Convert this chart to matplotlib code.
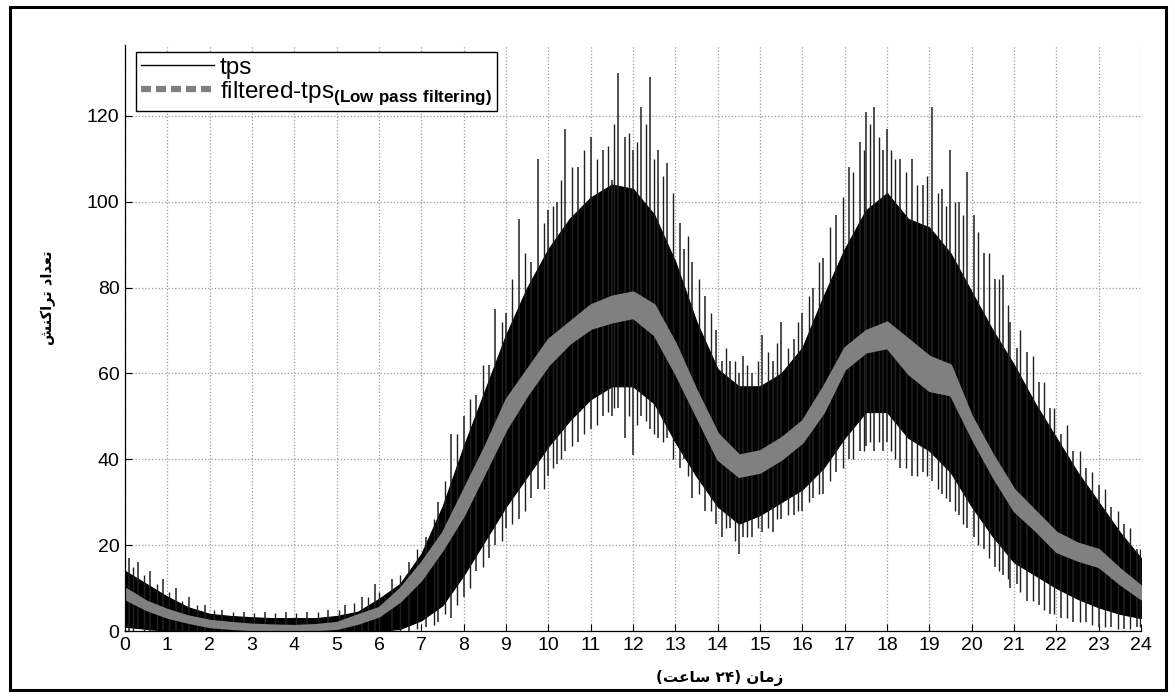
import matplotlib
matplotlib.use('Agg')
import matplotlib.pyplot as plt
from matplotlib import font_manager
from matplotlib.ft2font import FT2Font
from matplotlib.lines import Line2D
from matplotlib.patches import Rectangle

# ---------------- data ----------------
hours = [0, 0.5, 1, 1.5, 2, 2.5, 3, 3.5, 4, 4.5, 5, 5.5, 6, 6.5, 7, 7.5, 8, 8.5,
         9, 9.5, 10, 10.5, 11, 11.5, 12, 12.5, 13, 13.5, 14, 14.5, 15, 15.5, 16,
         16.5, 17, 17.5, 18, 18.5, 19, 19.5, 20, 20.5, 21, 21.5, 22, 22.5, 23,
         23.5, 24]

# dense tps band (upper / lower edge of the solid black mass)
tps_upper = [14, 11, 8, 5.5, 4, 3.5, 3.2, 3, 3, 3, 3.5, 4.5, 7.5, 11, 18, 29, 43, 56,
             69, 80, 89, 96, 101, 104, 103, 97, 86, 72, 61, 57, 57, 60, 66,
             78, 89, 98, 102, 96, 94, 88, 79, 70, 62, 53, 45, 37, 30,
             23, 17]
tps_lower = [1, 0.5, 0, 0, 0, 0, 0, 0, 0, 0, 0, 0, 0, 0.5, 2.5, 6, 13, 21,
             29, 36, 43, 49, 54, 57, 57, 53, 44, 36, 29, 25, 27, 30, 33,
             38, 45, 51, 51, 45, 42, 37, 29, 22, 16, 13, 10, 7.5, 5.5,
             4, 3]

# tall individual tps spikes: (hour, low, high)
spike_hours = [0.1, 0.3, 0.6, 0.9, 1.2, 1.5, 1.9, 2.3, 2.8, 3.3, 3.8, 4.3, 4.8, 5.2,
               5.6, 5.9, 6.3, 6.7, 7.1, 7.4, 7.7, 8.0, 8.3, 8.6, 8.75, 9.0, 9.3,
               9.6, 9.75, 10.0, 10.2, 10.4, 10.7, 11.0, 11.3, 11.5, 11.65, 11.8,
               12.0, 12.2, 12.4, 12.6, 12.8, 13.1, 13.2, 13.4, 13.7, 13.95, 14.1,
               14.3, 14.5, 14.6, 14.8, 15.05, 15.3, 15.5, 15.8, 16.0, 16.25, 16.5,
               16.8, 17.1, 17.37, 17.5, 17.7, 17.9, 18.0, 18.3, 18.6, 18.85, 19.06,
               19.3, 19.5, 19.7, 19.9, 20.05, 20.3, 20.55, 20.75, 20.9, 21.07, 21.3,
               21.6, 21.85, 22.1, 22.4, 22.7, 23.0, 23.3, 23.6, 23.9]
spike_low = [0, 0.5, 0, 0, 0, 0, 0, 0, 0, 0, 0, 0, 0, 0,
             0, 0, 0, 0, 1, 2, 3, 8, 14, 17, 20, 24, 26,
             31, 33, 36, 39, 42, 44, 47, 50, 50, 52, 45,
             41, 50, 47, 45, 45, 38, 40, 31, 28, 25, 22,
             24, 18, 22, 22, 23, 23, 26, 27, 28, 31, 32,
             37, 40, 42, 43, 42, 42, 44, 38, 36, 37, 35,
             32, 30, 27, 24, 22, 19, 15, 13, 10, 11, 7,
             6, 4, 3, 2, 2, 1, 1, 0.5, 1]
spike_high = [17, 16, 14, 12, 10, 8, 6, 5, 4.5, 4.5, 4.5, 4.5, 5, 6,
              8, 11, 12, 16, 22, 30, 46, 50, 55, 62, 75, 74, 96,
              86, 110, 98, 100, 117, 108, 115, 112, 105, 130, 115,
              112, 122, 129, 112, 109, 95, 89, 86, 78, 70, 63,
              63, 60, 64, 60, 69, 63, 72, 68, 74, 80, 87,
              97, 108, 114, 121, 122, 112, 117, 110, 110, 104, 122,
              103, 112, 100, 107, 97, 88, 82, 83, 72, 66, 65,
              58, 52, 46, 42, 38, 34, 29, 25, 19]

# shorter fuzz strokes around the band edges: (hour, low, high)
fuzz_hours = [0.2, 0.45, 0.75, 1.05, 1.35, 1.7, 2.1, 2.55, 3.05, 3.55, 4.05, 4.55,
              5.05, 5.4, 5.75, 6.0, 6.5, 6.9, 7.3, 7.55, 7.85, 8.15, 8.45, 8.9,
              9.15, 9.45, 9.9, 10.1, 10.3, 10.55, 10.85, 11.15, 11.4, 11.55, 11.9,
              12.1, 12.3, 12.5, 12.7, 12.95, 13.3, 13.55, 13.85, 14.2, 14.4, 14.7,
              14.95, 15.2, 15.4, 15.65, 15.9, 16.15, 16.4, 16.65, 16.95, 17.2,
              17.45, 17.6, 17.8, 18.1, 18.2, 18.45, 18.7, 18.95, 19.2, 19.4, 19.6,
              19.8, 20.15, 20.4, 20.65, 20.85, 21.15, 21.45, 21.7, 21.95, 22.25,
              22.55, 22.85, 23.15, 23.45, 23.75, 23.98]
fuzz_low = [0, 0, 0, 0, 0, 0, 0, 0, 0, 0, 0, 0,
            0, 0, 0, 0, 0, 0.5, 1.5, 4, 6, 10, 15, 21,
            25, 28, 33, 38, 40, 43, 46, 48, 51, 52, 50,
            48, 49, 46, 44, 40, 36, 32, 28, 24, 21, 22,
            24, 24, 26, 27, 28, 30, 32, 35, 38, 40,
            42, 44, 44, 42, 40, 38, 36, 36, 33, 31, 28,
            25, 20, 17, 14, 12, 9, 7, 5, 4, 3,
            2, 1.5, 1, 0.5, 0.5, 1]
fuzz_high = [15, 13, 11, 9, 7, 6, 5, 4.5, 4.3, 4.3, 4.3, 4.5,
             5, 6.5, 8, 9, 13, 19, 26, 35, 46, 54, 62, 72,
             82, 88, 95, 99, 105, 108, 112, 110, 113, 118, 116,
             114, 118, 110, 106, 102, 92, 82, 74, 66, 63, 62,
             63, 65, 67, 66, 72, 78, 86, 94, 101, 107,
             112, 118, 115, 112, 110, 107, 104, 106, 102, 99, 100,
             97, 93, 88, 82, 76, 70, 64, 58, 52, 48,
             42, 37, 33, 28, 24, 19]

# low-pass filtered tps (grey band: lower / upper edge)
filt_lower = [7.5, 5, 3.2, 2, 1, 0.6, 0.3, 0.2, 0.2, 0.3, 0.6, 1.8, 3.5, 7, 12, 19, 27, 37,
              47, 55, 62, 67, 70.5, 72, 73, 69, 60, 50, 40, 36, 37, 40, 44,
              51, 61, 65, 66, 60, 56, 55, 45, 36, 28, 23.5, 18.5, 16.5, 15,
              11, 7.5]
filt_upper = [10, 7, 5, 3.5, 2.5, 2, 1.6, 1.4, 1.3, 1.5, 2, 3.8, 5.5, 10, 16, 23, 33, 43,
              54, 61, 68, 72, 76, 78, 79, 76, 67, 56, 46, 41, 42, 45, 49,
              57, 66, 70, 72, 68, 64, 62, 50, 41, 33, 28, 23, 20.5, 19,
              14.5, 10.5]

xticks = list(range(0, 25))
yticks = [0, 20, 40, 60, 80, 100, 120]

# ---------------- Persian text (pre-shaped, visual order) ----------------
dv_path = font_manager.findfont(font_manager.FontProperties(family='DejaVu Sans'))
try:
    cmap = FT2Font(dv_path).get_charmap()
except Exception:
    cmap = {}

def pick(c, alt):
    return c if ord(c) in cmap else alt

kaf_init = pick('\uFB90', '\uFEDB')
d2 = pick('\u06F2', '\u0662')
d4 = pick('\u06F4', '\u0664')

ylabel_txt = ('\uFEB6\uFEE8' + kaf_init + '\uFE8D\uFEAE\uFE97 '
              '\uFEA9\uFE8D\uFEAA\uFECC\uFE97')
xlabel_txt = ('(\uFE96\uFECB\uFE8E\uFEB3 ' + d2 + d4 + ') '
              '\uFEE5\uFE8E\uFEE3\uFEAF')

# ---------------- figure ----------------
plt.rcParams['font.family'] = ['Liberation Sans', 'DejaVu Sans']
plt.rcParams['mathtext.fontset'] = 'custom'
plt.rcParams['mathtext.rm'] = 'Liberation Sans'
plt.rcParams['mathtext.bf'] = 'Liberation Sans:bold'

W, H = 1175, 697
fig = plt.figure(figsize=(W / 100, H / 100), dpi=100)
ax = fig.add_axes([125 / W, 66 / H, 1016 / W, 586 / H])

ax.fill_between(hours, tps_lower, tps_upper, color='black', lw=0.8,
                edgecolor='black', zorder=2)
ax.vlines(spike_hours, spike_low, spike_high, color='#202020', lw=1.1, zorder=2)
ax.vlines(fuzz_hours, fuzz_low, fuzz_high, color='#202020', lw=1.0, zorder=2)
ax.fill_between(hours, filt_lower, filt_upper, color='#808080', lw=1.5,
                edgecolor='#808080', zorder=3)

ax.set_xlim(0, 24)
ax.set_ylim(0, 136.5)
ax.set_xticks(xticks)
ax.set_yticks(yticks)
ax.tick_params(direction='in', length=5, width=0.8, labelsize=14, pad=4,
               top=False, right=False)
for s in ['top', 'right']:
    ax.spines[s].set_visible(False)
for s in ['left', 'bottom']:
    ax.spines[s].set_linewidth(0.9)
    ax.spines[s].set_zorder(5)
ax.grid(True, linestyle=':', color='#9a9a9a', lw=0.9)
ax.set_axisbelow(True)

handles = [Line2D([], [], color='black', lw=1.0),
           Line2D([], [], color='#808080', lw=4.5, ls=(0, (1.6, 0.8)))]
labels = ['tps', r'filtered-tps$_{\mathbf{(Low\ pass\ filtering)}}$']
leg = ax.legend(handles, labels, loc='upper left', bbox_to_anchor=(0.011, 0.988),
                borderaxespad=0, fontsize=17.5, frameon=True, fancybox=False,
                edgecolor='black', framealpha=1, handlelength=3.0,
                handletextpad=0.25, labelspacing=0.0, borderpad=0.2)
leg.get_frame().set_linewidth(1.0)
leg.set_zorder(10)

fig.text(48 / W, 1 - 298 / H, ylabel_txt, rotation=90, ha='center', va='center',
         fontsize=10.5, fontweight='bold', family=['DejaVu Sans'])
fig.text(720 / W, 1 - 678 / H, xlabel_txt, ha='center', va='center',
         fontsize=11, fontweight='bold', family=['DejaVu Sans'])

fig.patches.append(Rectangle((10 / W, 7 / H), 1156 / W, 683 / H,
                             transform=fig.transFigure, fill=False,
                             edgecolor='black', lw=2.2))

fig.savefig('out.png', dpi=100)
